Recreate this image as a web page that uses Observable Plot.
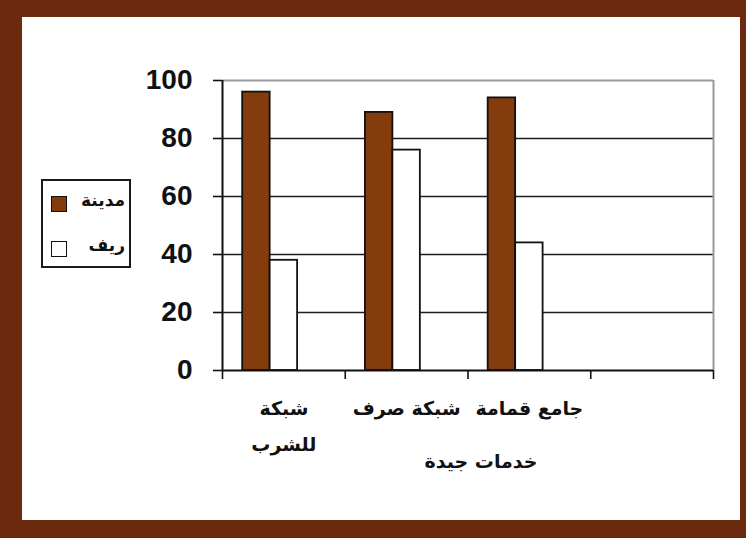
<!DOCTYPE html>
<html>
<head>
<meta charset="utf-8">
<script src="https://cdn.jsdelivr.net/npm/d3@7"></script>
<script src="https://cdn.jsdelivr.net/npm/@observablehq/plot@0.6"></script>
<style>
  html, body { margin: 0; padding: 0; }
  body { width: 746px; height: 538px; background: #6b2a0e; position: relative; overflow: hidden; }
  #panel { position: absolute; left: 22px; top: 17px; width: 718px; height: 503px; background: #fff; }
  #chart { position: absolute; left: 0; top: 0; }
  #legend {
    position: absolute; left: 41px; top: 179px; width: 90px; height: 89px;
    box-sizing: border-box; border: 2px solid #1a1a1a; background: #fff;
  }
  .item { position: absolute; left: 8px; width: 74px; height: 18px; }
  .swatch { position: absolute; left: 0; top: 1px; width: 14px; height: 14px; border: 1.5px solid #111; }
  .name {
    position: absolute; right: 0; top: -5px; direction: rtl;
    font-family: "DejaVu Sans", sans-serif; font-weight: bold; font-size: 17px; color: #111;
  }
</style>
</head>
<body>
<div id="panel"></div>
<div id="chart"></div>
<div id="legend"></div>
<script>
// Service categories (the last slot is an empty category on the axis)
const categories = ["شبكة\nللشرب", "شبكة صرف", "جامع قمامة", ""];
// Series
const seriesNames = ["مدينة", "ريف"];
const cityValues = [96, 89, 94, null];
const ruralValues = [38, 76, 44, null];
const seriesColors = ["#843c0c", "#ffffff"];
// Value axis
const yTicks = [0, 20, 40, 60, 80, 100];
const gridTicks = [20, 40, 60, 80];
const xTitle = "خدمات جيدة";

// Clustered-column geometry: each category slot is one unit wide and holds
// three column positions (only two series are filled) plus a gap.
const slotsPerCluster = 3;
const gapWidth = 1.47;
const colWidth = 1 / (slotsPerCluster + gapWidth);
const lead = (gapWidth / 2) * colWidth;

const valuesBySeries = [cityValues, ruralValues];
const rows = [];
categories.forEach((c, i) => {
  valuesBySeries.forEach((vals, s) => {
    if (vals[i] == null) return;
    rows.push({
      category: c,
      series: seriesNames[s],
      value: vals[i],
      x1: i + lead + s * colWidth,
      x2: i + lead + (s + 1) * colWidth
    });
  });
});

const arabicFont = "DejaVu Sans, sans-serif";

const chart = Plot.plot({
  width: 746,
  height: 538,
  marginLeft: 222,
  marginRight: 33,
  marginTop: 80,
  marginBottom: 168,
  style: { background: "transparent", color: "#111", fontFamily: "Liberation Sans, Arial, sans-serif" },
  x: { type: "linear", domain: [0, categories.length] },
  y: { domain: [0, 100] },
  color: { domain: seriesNames, range: seriesColors },
  marks: [
    // horizontal gridlines
    Plot.ruleY(gridTicks, { stroke: "#1e1e1e", strokeWidth: 1.6 }),
    Plot.ruleY([100], { stroke: "#9a9a9a", strokeWidth: 2 }),
    // right edge of the plot area
    Plot.ruleX([categories.length], { y1: 0, y2: 100, stroke: "#9a9a9a", strokeWidth: 2 }),
    // columns
    Plot.rect(rows, {
      x1: "x1", x2: "x2", y1: 0, y2: "value",
      fill: "series", stroke: "#111", strokeWidth: 1.8
    }),
    // value axis
    Plot.ruleX([0], { y1: 0, y2: 100, stroke: "#111", strokeWidth: 2 }),
    Plot.axisY({
      ticks: yTicks, tickSize: 9, tickPadding: 21, label: null,
      fontSize: 28, fontWeight: "bold", stroke: "#111", strokeWidth: 1.6
    }),
    // category axis: baseline and boundary ticks
    Plot.ruleY([0], { stroke: "#111", strokeWidth: 2 }),
    Plot.axisX({
      ticks: d3.range(categories.length + 1), tickSize: 9, tickFormat: () => "",
      label: null, stroke: "#111", strokeWidth: 1.6
    }),
    // category labels centred in each slot
    Plot.text(categories, {
      x: (d, i) => i + 0.5, y: 0, dy: 20, lineAnchor: "top", lineHeight: 1.85,
      text: d => d, fontSize: 19, fontWeight: "bold", fontFamily: arabicFont, fill: "#111"
    }),
    // axis title
    Plot.text([xTitle], {
      frameAnchor: "bottom", dx: 13, dy: 97, text: d => d,
      fontSize: 19, fontWeight: "bold", fontFamily: arabicFont, fill: "#111"
    })
  ]
});
document.getElementById("chart").append(chart);

// legend
const legend = document.getElementById("legend");
const itemTops = [14, 59];
seriesNames.forEach((name, i) => {
  const item = document.createElement("div");
  item.className = "item";
  item.style.top = itemTops[i] + "px";
  const sw = document.createElement("div");
  sw.className = "swatch";
  sw.style.background = seriesColors[i];
  const label = document.createElement("div");
  label.className = "name";
  label.textContent = name;
  item.append(sw, label);
  legend.append(item);
});
</script>
</body>
</html>
